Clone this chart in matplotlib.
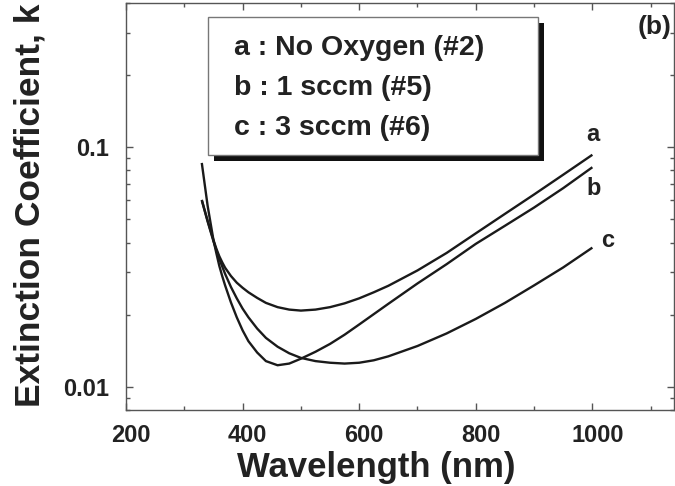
import matplotlib
matplotlib.use("Agg")
import matplotlib.pyplot as plt
import matplotlib.transforms as mtransforms
from matplotlib.patches import Rectangle
from matplotlib.ticker import FixedLocator, NullFormatter, MultipleLocator

plt.rcParams['font.family'] = ['Liberation Sans', 'DejaVu Sans']
plt.rcParams['font.weight'] = 'bold'

# Wavelength grid (nm) and extinction coefficient k for each sample
wavelength = [330, 340, 350, 355, 360, 365, 370, 380, 390, 400, 410, 425,
              440, 460, 480, 500, 525, 550, 575, 600, 625, 650, 700, 750,
              800, 850, 900, 950, 1000]
k_a = [0.0603, 0.0493, 0.0410, 0.0377, 0.0351, 0.0331, 0.0314, 0.0290,
       0.0272, 0.0259, 0.0248, 0.0235, 0.0224, 0.0215, 0.0210, 0.0208,
       0.0210, 0.0215, 0.0223, 0.0234, 0.0248, 0.0264, 0.0306, 0.0362,
       0.0437, 0.0527, 0.0635, 0.0768, 0.0930]
k_b = [0.086, 0.057, 0.0410, 0.0361, 0.0320, 0.0290, 0.0265, 0.0225,
       0.0195, 0.0172, 0.0155, 0.0139, 0.0128, 0.0123, 0.0125, 0.0131,
       0.0140, 0.0151, 0.0165, 0.0182, 0.0201, 0.0222, 0.0270, 0.0325,
       0.0395, 0.0470, 0.0560, 0.0675, 0.0825]
k_c = [0.0600, 0.0490, 0.0405, 0.0372, 0.0342, 0.0318, 0.0296, 0.0261,
       0.0234, 0.0212, 0.0195, 0.0175, 0.0160, 0.0147, 0.0138, 0.0132,
       0.0128, 0.0126, 0.0125, 0.0126, 0.0129, 0.0134, 0.0148, 0.0167,
       0.0192, 0.0224, 0.0265, 0.0315, 0.0381]

curve_tags = ['a', 'b', 'c']
legend_lines = ['a : No Oxygen (#2)', 'b : 1 sccm (#5)', 'c : 3 sccm (#6)']
tag_pos = [(1001, 0.113), (1002, 0.0672), (1027, 0.0408)]

x_ticks = [200, 400, 600, 800, 1000]
y_ticks = [0.01, 0.1]
y_tick_labels = ['0.01', '0.1']

W, H = 675, 486
fig = plt.figure(figsize=(W / 100, H / 100), dpi=100)
ax = fig.add_axes([126 / W, 76 / H, 548 / W, 407 / H])

for k in (k_a, k_b, k_c):
    ax.plot(wavelength, k, color='#1a1a1a', lw=1.7, solid_capstyle='butt',
            solid_joinstyle='round')

for tag, (x, y) in zip(curve_tags, tag_pos):
    ax.text(x, y, tag, fontsize=17, fontweight='bold', color='#222222',
            ha='center', va='center')

ax.set_yscale('log')
ax.set_xlim(200, 1140)
ax.set_ylim(0.0080, 0.40)

ax.xaxis.set_major_locator(FixedLocator(x_ticks))
ax.xaxis.set_minor_locator(MultipleLocator(100))
ax.yaxis.set_major_locator(FixedLocator(y_ticks))
ax.set_yticklabels(y_tick_labels)
minor_y = [m * d for d in (0.001, 0.01, 0.1) for m in range(2, 10)]
ax.yaxis.set_minor_locator(FixedLocator(minor_y))
ax.yaxis.set_minor_formatter(NullFormatter())

ax.tick_params(which='both', direction='in', top=True, right=True,
               color='#555555', width=1.0)
ax.tick_params(which='major', length=5)
ax.tick_params(which='minor', length=3)
ax.tick_params(axis='x', which='major', labelsize=17, pad=10,
               labelcolor='#222222')
ax.tick_params(axis='y', which='major', labelsize=17, pad=12,
               labelcolor='#222222')
shift = mtransforms.ScaledTranslation(5 / 100, 0, fig.dpi_scale_trans)
for lbl in ax.get_xticklabels():
    lbl.set_fontweight('bold')
    lbl.set_transform(lbl.get_transform() + shift)
for lbl in ax.get_yticklabels():
    lbl.set_fontweight('bold')
for sp in ax.spines.values():
    sp.set_color('#555555')
    sp.set_linewidth(1.0)

fig.text(376 / W, 1 - 467 / H, 'Wavelength (nm)', fontsize=25,
         fontweight='bold', color='#222222', ha='center', va='center')
fig.text(30 / W, 1 - 205 / H, 'Extinction Coefficient, k', rotation=90,
         fontsize=25.5, fontweight='bold', color='#222222',
         ha='center', va='center')

# Legend panel with drop shadow
bx0, by0, bx1, by1 = 208, 17, 538, 155
fig.patches.append(Rectangle(((bx0 + 6) / W, 1 - (by1 + 6) / H),
                             (bx1 - bx0) / W, (by1 - by0) / H,
                             transform=fig.transFigure, facecolor='#111111',
                             edgecolor='none', zorder=5))
fig.patches.append(Rectangle((bx0 / W, 1 - by1 / H),
                             (bx1 - bx0) / W, (by1 - by0) / H,
                             transform=fig.transFigure, facecolor='white',
                             edgecolor='#777777', lw=1.0, zorder=6))
for i, line in enumerate(legend_lines):
    fig.text(234 / W, 1 - (48 + 40 * i) / H, line, fontsize=20.5,
             fontweight='bold', color='#222222', ha='left', va='center',
             zorder=7)

fig.text(655 / W, 1 - 27 / H, '(b)', fontsize=19, fontweight='bold',
         color='#222222', ha='center', va='center')

fig.savefig('out.png', dpi=100)
